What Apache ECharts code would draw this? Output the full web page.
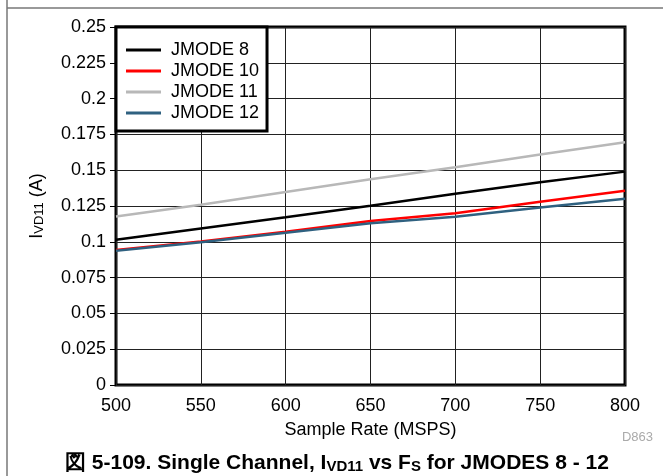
<!DOCTYPE html>
<html><head><meta charset="utf-8">
<script src="https://cdn.jsdelivr.net/npm/echarts@6/dist/echarts.min.js"></script>
<style>html,body{margin:0;padding:0;background:#fff}#c{width:663px;height:476px}</style>
</head><body><div id="c"></div>
<script>
const sampleRate = [500, 550, 600, 650, 700, 750, 800];
const jmode8  = [0.1015, 0.1093, 0.1172, 0.1252, 0.1336, 0.1416, 0.1490];
const jmode10 = [0.0942, 0.1003, 0.1070, 0.1145, 0.1200, 0.1280, 0.1356];
const jmode11 = [0.1177, 0.1259, 0.1348, 0.1437, 0.1520, 0.1610, 0.1695];
const jmode12 = [0.0938, 0.0997, 0.1063, 0.1130, 0.1175, 0.1240, 0.1300];
const seriesNames = ['JMODE 8', 'JMODE 10', 'JMODE 11', 'JMODE 12'];
const seriesColors = ['#000000', '#ff0000', '#b8b8b8', '#2f6180'];
const seriesData = [jmode8, jmode10, jmode11, jmode12];

const font = 'Liberation Sans, Arial, Helvetica, sans-serif';
const chart = echarts.init(document.getElementById('c'), null, {renderer: 'canvas'});
chart.setOption({
  animation: false,
  backgroundColor: '#fff',
  grid: {left: 116, right: 38, top: 27, bottom: 91, show: true, borderColor: '#000', borderWidth: 3, backgroundColor: 'transparent'},
  legend: {
    orient: 'vertical', left: 116, top: 27,
    data: seriesNames,
    icon: 'rect', itemWidth: 35, itemHeight: 3, itemGap: 3,
    padding: [14, 8, 9, 10],
    backgroundColor: '#fff', borderColor: '#000', borderWidth: 3,
    textStyle: {fontFamily: font, fontSize: 18, color: '#000', lineHeight: 16, padding: [0, 0, 0, 5]},
    z: 10
  },
  xAxis: {
    type: 'value', min: 500, max: 800, interval: 50,
    name: 'Sample Rate (MSPS)', nameLocation: 'middle', nameGap: 36,
    nameTextStyle: {fontFamily: font, fontSize: 18, color: '#000'},
    axisLine: {show: false}, axisTick: {show: false},
    axisLabel: {fontFamily: font, fontSize: 18, color: '#000', margin: 12},
    splitLine: {show: true, lineStyle: {color: '#222', width: 1}}
  },
  yAxis: {
    type: 'value', min: 0, max: 0.25, interval: 0.025,
    name: '{i|I}{s|VD11}{i| (A)}', nameLocation: 'middle', nameGap: 70, nameRotate: 90,
    nameTextStyle: {rich: {
      i: {fontFamily: font, fontSize: 18, color: '#000', lineHeight: 22, verticalAlign: 'bottom'},
      s: {fontFamily: font, fontSize: 13, color: '#000', lineHeight: 22, verticalAlign: 'bottom', padding: [6, 0, 0, 0]}
    }},
    axisLine: {show: false},
    axisTick: {show: true, length: 6, inside: false, lineStyle: {color: '#000', width: 1}},
    axisLabel: {fontFamily: font, fontSize: 18, color: '#000', margin: 10},
    splitLine: {show: true, lineStyle: {color: '#222', width: 1}}
  },
  series: seriesNames.map((n, k) => ({
    name: n, type: 'line', showSymbol: false, symbol: 'none',
    data: sampleRate.map((x, i) => [x, seriesData[k][i]]),
    lineStyle: {color: seriesColors[k], width: 2.5},
    itemStyle: {color: seriesColors[k]}
  })),
  graphic: [
    {type: 'line', shape: {x1: 7, y1: 0, x2: 7, y2: 476}, style: {stroke: '#777', lineWidth: 1.5}},
    {type: 'line', shape: {x1: 7, y1: 8, x2: 663, y2: 8}, style: {stroke: '#777', lineWidth: 1.5}},
    {type: 'text', right: 10, top: 431, style: {text: 'D863', fontFamily: font, fontSize: 13, fill: '#aaa'}},
    {type: 'text', left: 65, top: 452, style: {
      text: '{b|図 5-109. Single Channel, I}{s|VD11}{b| vs F}{s|S}{b| for JMODES 8 - 12}',
      rich: {
        b: {fontFamily: font, fontSize: 21, fontWeight: 'bold', fill: '#000', lineHeight: 26, verticalAlign: 'bottom'},
        s: {fontFamily: font, fontSize: 15, fontWeight: 'bold', fill: '#000', lineHeight: 26, verticalAlign: 'bottom', padding: [7, 0, 0, 0]}
      }
    }}
  ]
});
</script></body></html>
